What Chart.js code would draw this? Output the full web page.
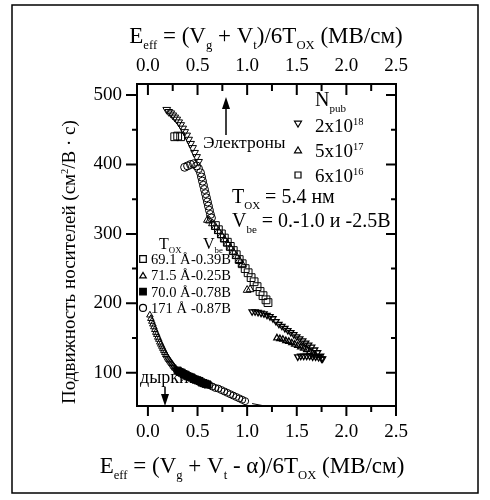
<!DOCTYPE html>
<html>
<head>
<meta charset="utf-8">
<script src="https://cdn.jsdelivr.net/npm/chart.js@4"></script>
<style>
  html, body { margin: 0; padding: 0; background: #fff; }
</style>
</head>
<body>
<canvas id="mob" width="490" height="500"></canvas>
<script>
const FONT = 'Liberation Serif';

// tick values
const xTicks = [0, 0.25, 0.5, 0.75, 1, 1.25, 1.5, 1.75, 2, 2.25, 2.5];
const yTicks = [100, 150, 200, 250, 300, 350, 400, 450, 500];

// electrons, upper curve
const eDownX = [0.19, 0.21, 0.23, 0.25, 0.27, 0.29, 0.31, 0.33, 0.35, 0.37, 0.39, 0.41, 0.43, 0.45, 0.47, 0.49, 0.51];
const eDownY = [479, 476, 474, 471, 468, 465, 461, 457, 452, 447, 442, 436, 430, 424, 417, 411, 404];
const eUpX = [0.60, 0.62, 0.65, 0.68, 0.71, 0.74, 0.77, 0.80, 0.83, 0.86, 0.89, 0.92, 0.95, 1.00, 1.03];
const eUpY = [320, 319, 315, 310, 304, 298, 292, 286, 280, 274, 268, 262, 256, 219, 220];
const eSqX = [0.27, 0.30, 0.33, 0.68, 0.71, 0.74, 0.77, 0.80, 0.83, 0.86, 0.89, 0.92, 0.95, 0.98, 1.01, 1.04, 1.07, 1.10, 1.13, 1.16, 1.19, 1.21];
const eSqY = [440, 441, 440, 312, 306, 300, 294, 288, 282, 276, 270, 263, 257, 250, 244, 237, 231, 224, 217, 211, 205, 201];
const eCircX = [0.37, 0.40, 0.43, 0.46, 0.49, 0.51, 0.53, 0.54, 0.55, 0.56, 0.57, 0.58, 0.59, 0.60, 0.61, 0.62, 0.63, 0.64];
const eCircY = [396, 398, 400, 401, 398, 394, 388, 382, 376, 370, 364, 358, 352, 346, 340, 334, 328, 323];

// electrons, lower right branches
const b1X = [1.05, 1.08, 1.11, 1.14, 1.17, 1.20, 1.23, 1.26, 1.29, 1.32, 1.35, 1.38, 1.41, 1.44, 1.47, 1.50, 1.53, 1.56, 1.59, 1.62, 1.65, 1.68, 1.71, 1.74, 1.76];
const b1Y = [188, 188, 187, 186, 185, 183, 181, 178, 174, 170, 167, 164, 161, 158, 155, 152, 149, 146, 143, 140, 137, 133, 129, 124, 120];
const b2X = [1.30, 1.33, 1.36, 1.39, 1.42, 1.45, 1.48, 1.51, 1.54, 1.57, 1.60, 1.63, 1.66, 1.69];
const b2Y = [150, 149, 148, 146, 145, 143, 141, 139, 137, 135, 133, 130, 128, 125];
const b3X = [1.51, 1.54, 1.57, 1.60, 1.63, 1.66, 1.69, 1.72, 1.75];
const b3Y = [123, 124, 124, 124, 124, 123, 123, 122, 120];

// holes
const hTriX = [0.02, 0.03, 0.04, 0.05, 0.06, 0.07, 0.08, 0.09, 0.10, 0.11, 0.12, 0.13, 0.14, 0.15, 0.16, 0.17, 0.18, 0.19, 0.20, 0.21, 0.22, 0.23, 0.24, 0.25, 0.26, 0.27, 0.28, 0.29];
const hTriY = [183, 178, 174, 170, 166, 162, 158, 155, 151, 148, 144, 141, 138, 135, 132, 129, 126, 124, 121, 119, 117, 115, 113, 111, 109, 107, 106, 104];
const hSqX = [0.30, 0.32, 0.34, 0.36, 0.38, 0.40, 0.42, 0.44, 0.46, 0.48, 0.50, 0.52, 0.54, 0.56, 0.58, 0.60];
const hSqY = [103, 101, 100, 98, 97, 95, 94, 93, 91, 90, 89, 88, 86, 85, 84, 83];
const hCircX = [0.62, 0.65, 0.68, 0.71, 0.74, 0.77, 0.80, 0.83, 0.86, 0.89, 0.92, 0.95, 0.98];
const hCircY = [82, 80, 78, 77, 75, 73, 71, 69, 67, 65, 63, 61, 59];
const fitX = [1.05, 1.16];
const fitY = [55.5, 52.5];

function pts(xs, ys) {
  return xs.map((x, i) => ({ x: x, y: ys[i] }));
}

function marker(style, radius, opts) {
  return Object.assign({
    pointStyle: style,
    pointRadius: radius,
    pointBorderWidth: 1,
    borderColor: '#000',
    backgroundColor: 'rgba(255,255,255,0)',
    showLine: false
  }, opts || {});
}

const datasets = [
  Object.assign({ data: pts(eDownX, eDownY) }, marker('triangle', 4.5, { rotation: 180 })),
  Object.assign({ data: pts(eUpX, eUpY) }, marker('triangle', 4.5)),
  Object.assign({ data: pts(eSqX, eSqY) }, marker('rect', 5.5)),
  Object.assign({ data: pts(eCircX, eCircY) }, marker('circle', 4)),
  Object.assign({ data: pts(b1X, b1Y) }, marker('triangle', 3.6, { rotation: 180, pointBorderWidth: 1.3 })),
  Object.assign({ data: pts(b2X, b2Y) }, marker('triangle', 3.6, { pointBorderWidth: 1.3 })),
  Object.assign({ data: pts(b3X, b3Y) }, marker('triangle', 3.6, { rotation: 180, pointBorderWidth: 1.3 })),
  Object.assign({ data: pts(hTriX, hTriY) }, marker('triangle', 3.8)),
  Object.assign({ data: pts(hSqX, hSqY) }, marker('rect', 5, { backgroundColor: '#000' })),
  Object.assign({ data: pts(hCircX, hCircY) }, marker('circle', 3.5)),
  {
    data: pts(fitX, fitY),
    showLine: true,
    pointRadius: 0,
    borderColor: '#000',
    borderWidth: 1
  }
];

// draws text made of normal / sub / sup pieces
function richText(ctx, parts, x, y, size, align) {
  let w = 0;
  const items = parts.map(p => {
    const fs = p[1] ? size * 0.55 : size;
    ctx.font = fs + 'px "' + FONT + '"';
    const m = ctx.measureText(p[0]).width;
    w += m;
    return { t: p[0], k: p[1], fs: fs, m: m };
  });
  let cx = align === 'center' ? x - w / 2 : (align === 'right' ? x - w : x);
  ctx.textAlign = 'left';
  ctx.textBaseline = 'alphabetic';
  ctx.fillStyle = '#000';
  items.forEach(it => {
    ctx.font = it.fs + 'px "' + FONT + '"';
    const dy = it.k === 'sub' ? size * 0.28 : (it.k === 'sup' ? -size * 0.38 : 0);
    ctx.fillText(it.t, cx, y + dy);
    cx += it.m;
  });
}

function drawMarker(ctx, style, x, y, r, filled) {
  ctx.beginPath();
  if (style === 'down') {
    ctx.moveTo(x - r, y - r * 0.8);
    ctx.lineTo(x + r, y - r * 0.8);
    ctx.lineTo(x, y + r * 0.9);
  } else if (style === 'up') {
    ctx.moveTo(x - r, y + r * 0.8);
    ctx.lineTo(x + r, y + r * 0.8);
    ctx.lineTo(x, y - r * 0.9);
  } else if (style === 'sq') {
    ctx.rect(x - r, y - r, 2 * r, 2 * r);
  } else {
    ctx.arc(x, y, r, 0, Math.PI * 2);
  }
  ctx.closePath();
  if (filled) {
    ctx.fillStyle = '#000';
    ctx.fill();
  }
  ctx.lineWidth = 1.2;
  ctx.strokeStyle = '#000';
  ctx.stroke();
}

function arrow(ctx, x, y0, y1) {
  const dir = y1 > y0 ? 1 : -1;
  ctx.beginPath();
  ctx.moveTo(x, y0);
  ctx.lineTo(x, y1 - dir * 8);
  ctx.lineWidth = 1.5;
  ctx.strokeStyle = '#000';
  ctx.stroke();
  ctx.beginPath();
  ctx.moveTo(x, y1);
  ctx.lineTo(x - 4, y1 - dir * 12);
  ctx.lineTo(x + 4, y1 - dir * 12);
  ctx.closePath();
  ctx.fillStyle = '#000';
  ctx.fill();
}

const decor = {
  id: 'decor',
  afterDraw(chart) {
    const ctx = chart.ctx;
    const a = chart.chartArea;
    const xs = chart.scales.x;
    const ys = chart.scales.y;
    ctx.save();
    ctx.strokeStyle = '#000';

    // outer frame
    ctx.lineWidth = 1.5;
    ctx.strokeRect(12, 5, 466, 488);

    // plot box
    ctx.lineWidth = 2;
    ctx.strokeRect(a.left, a.top, a.right - a.left, a.bottom - a.top);

    // tick marks
    xTicks.forEach((v, i) => {
      const px = xs.getPixelForValue(v);
      const major = i % 2 === 0;
      ctx.beginPath();
      ctx.moveTo(px, a.bottom);
      ctx.lineTo(px, a.bottom + (major ? 10 : 6));
      ctx.moveTo(px, a.top);
      ctx.lineTo(px, a.top + (major ? 11 : 7));
      ctx.stroke();
    });
    yTicks.forEach((v, i) => {
      const py = ys.getPixelForValue(v);
      const major = i % 2 === 0;
      ctx.beginPath();
      ctx.moveTo(a.left, py);
      ctx.lineTo(a.left - (major ? 11 : 5), py);
      ctx.moveTo(a.right, py);
      ctx.lineTo(a.right - (major ? 10 : 5), py);
      ctx.stroke();
    });

    // axis titles
    richText(ctx, [['E', ''], ['eff', 'sub'], [' = (V', ''], ['g', 'sub'], [' + V', ''], ['t', 'sub'], [')/6T', ''], ['OX', 'sub'], [' (МВ/см)', '']], 266, 43, 23, 'center');
    richText(ctx, [['E', ''], ['eff', 'sub'], [' = (V', ''], ['g', 'sub'], [' + V', ''], ['t', 'sub'], [' - α)/6T', ''], ['OX', 'sub'], [' (МВ/см)', '']], 252, 473, 23, 'center');
    ctx.save();
    ctx.translate(75, 262);
    ctx.rotate(-Math.PI / 2);
    richText(ctx, [['Подвижность носителей (см', ''], ['2', 'sup'], ['/В · с)', '']], 0, 0, 19, 'center');
    ctx.restore();

    // doping legend
    richText(ctx, [['N', ''], ['pub', 'sub']], 315, 106, 20, 'left');
    drawMarker(ctx, 'down', 298, 124, 3.5, false);
    richText(ctx, [['2x10', ''], ['18', 'sup']], 315, 132, 19, 'left');
    drawMarker(ctx, 'up', 298, 150, 3.5, false);
    richText(ctx, [['5x10', ''], ['17', 'sup']], 315, 157, 19, 'left');
    drawMarker(ctx, 'sq', 298, 175, 3, false);
    richText(ctx, [['6x10', ''], ['16', 'sup']], 315, 182, 19, 'left');

    richText(ctx, [['T', ''], ['OX', 'sub'], [' = 5.4 нм', '']], 232, 203, 20, 'left');
    richText(ctx, [['V', ''], ['be', 'sub'], [' = 0.-1.0 и -2.5В', '']], 232, 227, 20, 'left');

    // oxide legend
    richText(ctx, [['T', ''], ['OX', 'sub']], 159, 249, 16, 'left');
    richText(ctx, [['V', ''], ['be', 'sub']], 203, 249, 16, 'left');
    const rows = [['sq', false, '69.1 Å', '-0.39В'], ['up', false, '71.5 Å', '-0.25В'], ['sq', true, '70.0 Å', '-0.78В'], ['circ', false, '171 Å', '-0.87В']];
    rows.forEach((r, i) => {
      const cy = 259 + i * 16.3;
      drawMarker(ctx, r[0], 143, cy, r[0] === 'circ' ? 3.5 : 3.3, r[1]);
      richText(ctx, [[r[2], '']], 151, cy + 5, 14.5, 'left');
      richText(ctx, [[r[3], '']], 191, cy + 5, 14.5, 'left');
    });

    // carrier labels
    richText(ctx, [['Электроны', '']], 203, 148, 17.5, 'left');
    arrow(ctx, 226, 135, 97);
    richText(ctx, [['дырки', '']], 140, 383, 18, 'left');
    arrow(ctx, 165, 387, 406);

    ctx.restore();
  }
};

const tickFont = { family: FONT, size: 19 };

new Chart(document.getElementById('mob'), {
  type: 'scatter',
  data: { datasets: datasets },
  options: {
    responsive: false,
    animation: false,
    events: [],
    layout: { padding: { right: 94, top: 0, left: 0, bottom: 0 } },
    plugins: { legend: { display: false }, tooltip: { enabled: false } },
    scales: {
      x: {
        type: 'linear',
        position: 'bottom',
        min: -0.11,
        max: 2.5,
        afterBuildTicks: s => { s.ticks = xTicks.map(v => ({ value: v })); },
        afterFit: s => { s.height = 94; },
        grid: { display: false, drawTicks: false },
        border: { display: false },
        ticks: {
          autoSkip: false,
          maxRotation: 0,
          padding: 15,
          color: '#000',
          font: tickFont,
          callback: (v, i) => (i % 2 === 0 ? Number(v).toFixed(1) : '')
        }
      },
      x2: {
        type: 'linear',
        position: 'top',
        min: -0.11,
        max: 2.5,
        afterBuildTicks: s => { s.ticks = xTicks.map(v => ({ value: v })); },
        afterFit: s => { s.height = 84; },
        grid: { display: false, drawTicks: false },
        border: { display: false },
        ticks: {
          autoSkip: false,
          maxRotation: 0,
          padding: 7,
          color: '#000',
          font: tickFont,
          callback: (v, i) => (i % 2 === 0 ? Number(v).toFixed(1) : '')
        }
      },
      y: {
        type: 'linear',
        position: 'left',
        min: 52,
        max: 516,
        afterBuildTicks: s => { s.ticks = yTicks.map(v => ({ value: v })); },
        afterFit: s => { s.width = 137; },
        grid: { display: false, drawTicks: false },
        border: { display: false },
        ticks: {
          autoSkip: false,
          padding: 15,
          color: '#000',
          font: tickFont,
          callback: (v, i) => (i % 2 === 0 ? String(v) : '')
        }
      }
    }
  },
  plugins: [decor]
});
</script>
</body>
</html>
